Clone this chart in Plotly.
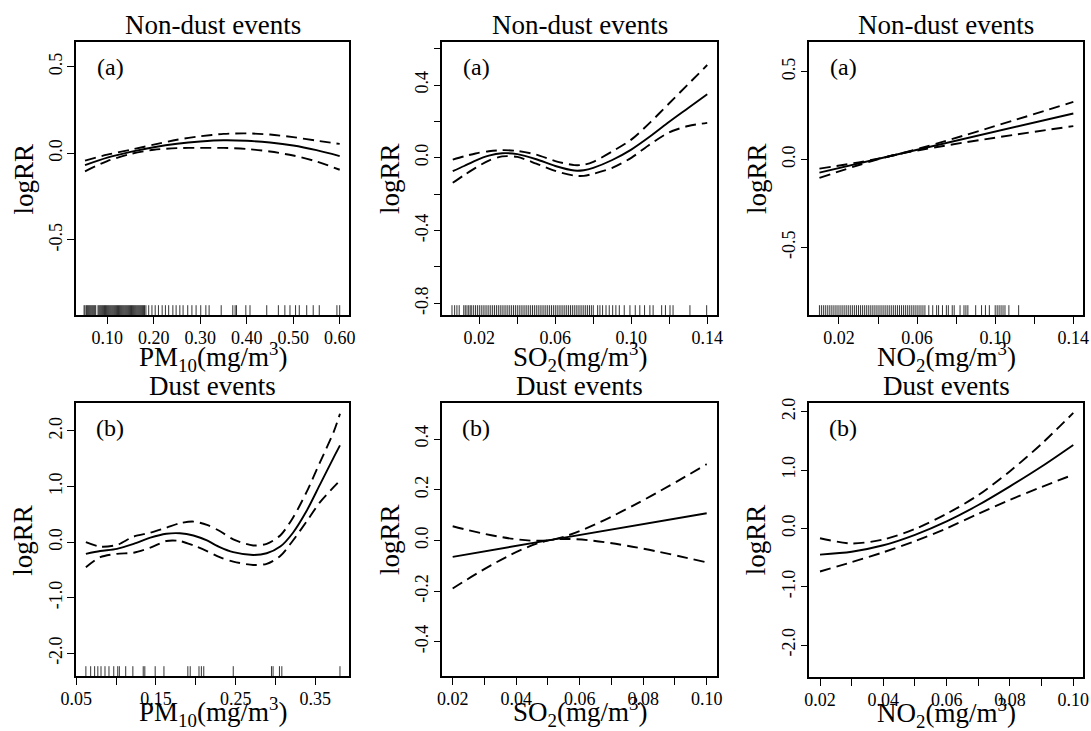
import plotly.graph_objects as go

W, H = 1091, 731

# ---------------- data ----------------
# Panel (a) PM10, non-dust events
pm10_nd_x = [0.052, 0.10, 0.15, 0.20, 0.25, 0.30, 0.35, 0.40, 0.45, 0.50, 0.55, 0.60]
pm10_nd_fit = [-0.068, -0.025, 0.008, 0.035, 0.055, 0.068, 0.075, 0.072, 0.062, 0.045, 0.018, -0.016]
pm10_nd_hi = [-0.042, -0.008, 0.020, 0.050, 0.078, 0.098, 0.112, 0.115, 0.108, 0.093, 0.073, 0.054]
pm10_nd_lo = [-0.104, -0.045, -0.004, 0.020, 0.030, 0.031, 0.031, 0.025, 0.010, -0.013, -0.047, -0.095]
pm10_nd_rug = [0.050, 0.052, 0.055, 0.057, 0.059, 0.061, 0.063, 0.065, 0.067, 0.069, 0.071, 0.073,
               0.075, 0.080, 0.082, 0.084, 0.086, 0.088, 0.090, 0.092, 0.094, 0.096, 0.098, 0.100,
               0.102, 0.104, 0.106, 0.108, 0.110, 0.112, 0.114, 0.116, 0.118, 0.120, 0.122, 0.124,
               0.126, 0.128, 0.130, 0.132, 0.134, 0.136, 0.138, 0.140, 0.142, 0.144, 0.146, 0.148,
               0.150, 0.152, 0.154, 0.156, 0.158, 0.160, 0.162, 0.164, 0.166, 0.168, 0.170, 0.172,
               0.174, 0.176, 0.178, 0.180, 0.183, 0.189, 0.196, 0.203, 0.210, 0.218, 0.225, 0.232,
               0.241, 0.248, 0.256, 0.263, 0.273, 0.282, 0.291, 0.301, 0.312, 0.319, 0.345, 0.370,
               0.375, 0.378, 0.398, 0.407, 0.443, 0.468, 0.482, 0.493, 0.505, 0.513, 0.529, 0.543,
               0.556, 0.594, 0.600]

# Panel (a) SO2, non-dust events
so2_nd_x = [0.006, 0.012, 0.018, 0.025, 0.032, 0.040, 0.050, 0.060, 0.070, 0.075, 0.080, 0.090,
            0.100, 0.110, 0.120, 0.130, 0.140]
so2_nd_fit = [-0.073, -0.045, -0.015, 0.012, 0.025, 0.020, -0.008, -0.045, -0.070, -0.068, -0.055,
              -0.012, 0.045, 0.118, 0.198, 0.274, 0.350]
so2_nd_hi = [-0.010, 0.008, 0.024, 0.036, 0.042, 0.038, 0.018, -0.018, -0.040, -0.038, -0.022,
             0.035, 0.100, 0.195, 0.300, 0.405, 0.510]
so2_nd_lo = [-0.137, -0.095, -0.055, -0.015, 0.008, 0.005, -0.032, -0.072, -0.098, -0.099, -0.088,
             -0.055, 0.000, 0.075, 0.140, 0.175, 0.192]
so2_nd_rug = [0.0056, 0.0070, 0.0082, 0.0094, 0.0118, 0.0126, 0.0135, 0.0144, 0.0152,
              0.016, 0.017, 0.018, 0.019, 0.020, 0.021, 0.022, 0.023, 0.024, 0.025, 0.026, 0.027,
              0.028, 0.029, 0.030, 0.031, 0.032, 0.033, 0.034, 0.035, 0.036, 0.037, 0.038, 0.039,
              0.040, 0.041, 0.042, 0.043, 0.044, 0.045, 0.046, 0.047, 0.048, 0.049, 0.050, 0.051,
              0.052, 0.053, 0.054, 0.055, 0.056, 0.057, 0.058, 0.059, 0.060, 0.061, 0.062, 0.063,
              0.064, 0.065, 0.066, 0.067, 0.068, 0.069, 0.070, 0.071, 0.072, 0.073, 0.074, 0.075,
              0.076, 0.077, 0.078, 0.079, 0.080, 0.0823, 0.0835, 0.0849, 0.0867, 0.0884, 0.0902,
              0.0919, 0.0937, 0.0963, 0.0993, 0.1021, 0.1045, 0.1070, 0.1098, 0.1115, 0.1160,
              0.1180, 0.1204, 0.1220, 0.1309, 0.1397]

# Panel (a) NO2, non-dust events
no2_nd_x = [0.010, 0.048, 0.140]
no2_nd_fit = [-0.075, 0.024, 0.262]
no2_nd_hi = [-0.052, 0.024, 0.328]
no2_nd_lo = [-0.105, 0.024, 0.190]
no2_nd_rug = [0.010, 0.011, 0.012, 0.013, 0.014, 0.015, 0.016, 0.017, 0.018, 0.019, 0.020, 0.021,
              0.022, 0.023, 0.024, 0.025, 0.026, 0.027, 0.028, 0.029, 0.030, 0.031, 0.032, 0.033,
              0.034, 0.035, 0.036, 0.037, 0.038, 0.039, 0.040, 0.041, 0.042, 0.043, 0.044, 0.045,
              0.046, 0.047, 0.048, 0.049, 0.050, 0.051, 0.052, 0.053, 0.054, 0.055, 0.056, 0.057,
              0.058, 0.059, 0.060, 0.061, 0.062, 0.063, 0.064, 0.066, 0.068, 0.070, 0.071, 0.073,
              0.075, 0.076, 0.078, 0.079, 0.082, 0.084, 0.085, 0.086, 0.090, 0.093, 0.095, 0.097,
              0.100, 0.101, 0.102, 0.103, 0.104, 0.105, 0.107, 0.112]

# Panel (b) PM10, dust events
pm10_d_x = [0.062, 0.080, 0.101, 0.122, 0.143, 0.163, 0.180, 0.197, 0.214, 0.230, 0.247, 0.272,
            0.289, 0.306, 0.322, 0.339, 0.356, 0.373, 0.381]
pm10_d_fit = [-0.21, -0.16, -0.12, -0.03, 0.08, 0.15, 0.16, 0.12, 0.03, -0.09, -0.18, -0.23,
              -0.20, -0.08, 0.17, 0.56, 1.04, 1.52, 1.74]
pm10_d_hi = [0.00, -0.08, -0.05, 0.10, 0.17, 0.26, 0.34, 0.37, 0.31, 0.20, 0.05, -0.06,
             -0.03, 0.12, 0.44, 0.90, 1.44, 1.98, 2.31]
pm10_d_lo = [-0.45, -0.27, -0.21, -0.19, -0.10, 0.02, 0.02, -0.06, -0.16, -0.27, -0.35, -0.41,
             -0.39, -0.25, 0.03, 0.37, 0.72, 0.99, 1.11]
pm10_d_rug = [0.062, 0.068, 0.073, 0.077, 0.081, 0.086, 0.091, 0.097, 0.102, 0.104, 0.112, 0.121,
              0.134, 0.136, 0.149, 0.160, 0.190, 0.193, 0.204, 0.207, 0.210, 0.247, 0.295, 0.297,
              0.305, 0.308, 0.381]

# Panel (b) SO2, dust events
so2_d_x = [0.020, 0.051, 0.100]
so2_d_fit = [-0.065, 0.002, 0.107]
so2_d_hi = [0.056, 0.002, 0.301]
so2_d_lo = [-0.190, 0.002, -0.087]

# Panel (b) NO2, dust events
no2_d_x = [0.020, 0.030, 0.040, 0.050, 0.060, 0.070, 0.080, 0.090, 0.100]
no2_d_fit = [-0.45, -0.40, -0.29, -0.11, 0.12, 0.40, 0.72, 1.06, 1.43]
no2_d_hi = [-0.17, -0.26, -0.19, -0.01, 0.25, 0.57, 0.98, 1.45, 1.98]
no2_d_lo = [-0.74, -0.58, -0.41, -0.22, 0.00, 0.25, 0.49, 0.71, 0.92]

# tick values / labels
pm10_nd_xt = [0.10, 0.20, 0.30, 0.40, 0.50, 0.60]
pm10_nd_xl = ["0.10", "0.20", "0.30", "0.40", "0.50", "0.60"]
half_yt = [-0.5, 0.0, 0.5]
half_yl = ["-0.5", "0.0", "0.5"]
nd_gas_xt = [0.02, 0.04, 0.06, 0.08, 0.10, 0.12, 0.14]
nd_gas_xl = ["0.02", "", "0.06", "", "0.10", "", "0.14"]
so2_nd_yt = [-0.8, -0.6, -0.4, -0.2, 0.0, 0.2, 0.4, 0.6]
so2_nd_yl = ["-0.8", "", "-0.4", "", "0.0", "", "0.4", ""]
pm10_d_xt = [0.05, 0.10, 0.15, 0.20, 0.25, 0.30, 0.35]
pm10_d_xl = ["0.05", "", "0.15", "", "0.25", "", "0.35"]
two_yt = [-2.0, -1.0, 0.0, 1.0, 2.0]
two_yl = ["-2.0", "-1.0", "0.0", "1.0", "2.0"]
d_gas_xt = [0.02, 0.03, 0.04, 0.05, 0.06, 0.07, 0.08, 0.09, 0.10]
d_gas_xl = ["0.02", "", "0.04", "", "0.06", "", "0.08", "", "0.10"]
so2_d_yt = [-0.4, -0.2, 0.0, 0.2, 0.4]
so2_d_yl = ["-0.4", "-0.2", "0.0", "0.2", "0.4"]

PM = "PM<sub>10</sub>(mg/m<sup>3</sup>)"
SO = "SO<sub>2</sub>(mg/m<sup>3</sup>)"
NO = "NO<sub>2</sub>(mg/m<sup>3</sup>)"

panels = [
    dict(x=pm10_nd_x, fit=pm10_nd_fit, hi=pm10_nd_hi, lo=pm10_nd_lo, rug=pm10_nd_rug,
         xr=[0.0326, 0.620], yr=[-0.933, 0.642], xt=pm10_nd_xt, xl=pm10_nd_xl, yt=half_yt, yl=half_yl,
         box=(76, 42, 349, 315), title="Non-dust events", tag="(a)", xtitle=PM),
    dict(x=so2_nd_x, fit=so2_nd_fit, hi=so2_nd_hi, lo=so2_nd_lo, rug=so2_nd_rug,
         xr=[0.0005, 0.1453], yr=[-0.864, 0.635], xt=nd_gas_xt, xl=nd_gas_xl, yt=so2_nd_yt, yl=so2_nd_yl,
         box=(442.3, 42.3, 717.3, 315), title="Non-dust events", tag="(a)", xtitle=SO),
    dict(x=no2_nd_x, fit=no2_nd_fit, hi=no2_nd_hi, lo=no2_nd_lo, rug=no2_nd_rug,
         xr=[0.0048, 0.1448], yr=[-0.885, 0.667], xt=nd_gas_xt, xl=nd_gas_xl, yt=half_yt, yl=half_yl,
         box=(809.3, 42.3, 1082.7, 315), title="Non-dust events", tag="(a)", xtitle=NO),
    dict(x=pm10_d_x, fit=pm10_d_fit, hi=pm10_d_hi, lo=pm10_d_lo, rug=pm10_d_rug,
         xr=[0.0496, 0.3927], yr=[-2.408, 2.498], xt=pm10_d_xt, xl=pm10_d_xl, yt=two_yt, yl=two_yl,
         box=(76, 403.3, 349.3, 676), title="Dust events", tag="(b)", xtitle=PM),
    dict(x=so2_d_x, fit=so2_d_fit, hi=so2_d_hi, lo=so2_d_lo, rug=None,
         xr=[0.01673, 0.10315], yr=[-0.535, 0.541], xt=d_gas_xt, xl=d_gas_xl, yt=so2_d_yt, yl=so2_d_yl,
         box=(442.3, 403.3, 716.7, 676), title="Dust events", tag="(b)", xtitle=SO),
    dict(x=no2_d_x, fit=no2_d_fit, hi=no2_d_hi, lo=no2_d_lo, rug=None,
         xr=[0.01662, 0.10316], yr=[-2.543, 2.144], xt=d_gas_xt, xl=d_gas_xl, yt=two_yt, yl=two_yl,
         box=(809.3, 403.3, 1083.3, 676.7), title="Dust events", tag="(b)", xtitle=NO),
]

FONT = "Liberation Serif, Times New Roman, serif"
fig = go.Figure()
layout = dict(
    template="none",
    width=W, height=H, margin=dict(l=0, r=0, t=0, b=0, pad=0, autoexpand=False),
    paper_bgcolor="white", plot_bgcolor="white", showlegend=False,
    font=dict(family=FONT, color="black", size=18),
)
annotations = []

def px2x(p):
    return p / W

def px2y(p):
    return 1 - p / H

for i, p in enumerate(panels, start=1):
    xa = "x" if i == 1 else f"x{i}"
    ya = "y" if i == 1 else f"y{i}"
    l, t, r, b = p["box"]
    axcommon = dict(showgrid=False, zeroline=False, showline=True, mirror=True, automargin=False,
                    linecolor="black", linewidth=1.6, ticks="outside", ticklen=7,
                    tickwidth=1.4, tickcolor="black",
                    tickfont=dict(family=FONT, size=18, color="black"))
    layout["xaxis" if i == 1 else f"xaxis{i}"] = dict(
        axcommon, domain=[px2x(l), px2x(r)], range=p["xr"], anchor=ya,
        tickmode="array", tickvals=p["xt"], ticktext=p["xl"], ticklabelstandoff=-1)
    layout["yaxis" if i == 1 else f"yaxis{i}"] = dict(
        axcommon, domain=[px2y(b), px2y(t)], range=p["yr"], anchor=xa,
        tickmode="array", tickvals=p["yt"], ticktext=p["yl"], tickangle=-90,
        ticklabelstandoff=-2)

    for key, dash in (("hi", "11px,6px"), ("lo", "11px,6px"), ("fit", "solid")):
        fig.add_trace(go.Scatter(
            x=p["x"], y=p[key], xaxis=xa, yaxis=ya, mode="lines",
            line=dict(color="black", width=1.9, dash=dash, shape="spline", smoothing=0.8),
            hoverinfo="skip"))
    if p["rug"]:
        fig.add_trace(go.Scatter(
            x=p["rug"], y=[p["yr"][0]] * len(p["rug"]), xaxis=xa, yaxis=ya, mode="markers",
            marker=dict(symbol="line-ns", size=14, line=dict(color="black", width=0.8)),
            cliponaxis=True, hoverinfo="skip"))

    cx = (l + r) / 2
    annotations.append(dict(text=p["title"], x=px2x(cx), y=px2y(t - 17), xref="paper", yref="paper",
                            showarrow=False, xanchor="center", yanchor="middle",
                            font=dict(family=FONT, size=27, color="black")))
    annotations.append(dict(text=p["tag"], x=px2x(l + 34), y=px2y(t + 25), xref="paper", yref="paper",
                            showarrow=False, xanchor="center", yanchor="middle",
                            font=dict(family=FONT, size=24, color="black")))
    xt_y = b + 42 if b < 400 else b + 36
    annotations.append(dict(text=p["xtitle"], x=px2x(cx), y=px2y(xt_y), xref="paper", yref="paper",
                            showarrow=False, xanchor="center", yanchor="middle",
                            font=dict(family=FONT, size=27, color="black")))
    annotations.append(dict(text="logRR", x=px2x(l - 53), y=px2y((t + b) / 2), xref="paper",
                            yref="paper", showarrow=False, textangle=-90, xanchor="center",
                            yanchor="middle", font=dict(family=FONT, size=27, color="black")))

layout["annotations"] = annotations
fig.update_layout(**layout)
fig.write_html("out.html", config={"displayModeBar": False})

# remove the browser's default page margin so the figure sits at the window origin
with open("out.html", "r", encoding="utf-8") as fh:
    html = fh.read()
html = html.replace("<head>", "<head><style>html,body{margin:0;padding:0;overflow:hidden;}</style>", 1)
with open("out.html", "w", encoding="utf-8") as fh:
    fh.write(html)
